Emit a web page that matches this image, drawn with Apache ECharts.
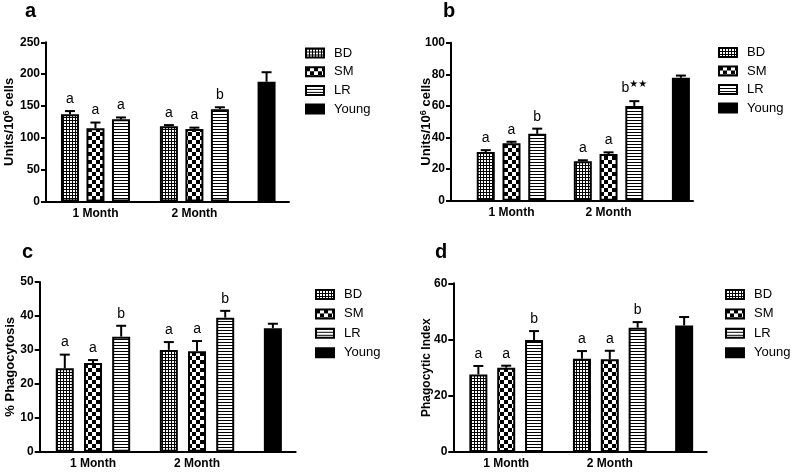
<!DOCTYPE html>
<html>
<head>
<meta charset="utf-8">
<script src="https://cdn.jsdelivr.net/npm/echarts@6/dist/echarts.min.js"></script>
<style>
  html, body { margin: 0; padding: 0; background: #fff; }
  #chart { width: 794px; height: 472px; }
</style>
</head>
<body>
<div id="chart"></div>
<script>
const groups = ['1 Month', '2 Month']
const legendNames = ['BD', 'SM', 'LR', 'Young']

// panel a
const aTicks = [0, 50, 100, 150, 200, 250]
const aBD = [137, 118], aSM = [115, 114], aLR = [129, 145], aYoung = [188]
const aBDErr = [5, 2], aSMErr = [9, 2], aLRErr = [3, 3], aYoungErr = [15]
const aSig = ['a', 'a', 'a', 'a', 'a', 'b']

// panel b
const bTicks = [0, 20, 40, 60, 80, 100]
const bBD = [30.8, 25], bSM = [36.3, 29.6], bLR = [42.3, 60], bYoung = [77.8]
const bBDErr = [1.2, 0.6], bSMErr = [1, 1], bLRErr = [3.3, 3], bYoungErr = [1.4]
const bSig = ['a', 'a', 'b', 'a', 'a', 'b★★']

// panel c
const cTicks = [0, 10, 20, 30, 40, 50]
const cBD = [24.6, 30], cSM = [26.1, 29.6], cLR = [33.9, 39.5], cYoung = [36.4]
const cBDErr = [4, 2.3], cSMErr = [0.9, 3], cLRErr = [3.2, 2], cYoungErr = [1.3]
const cSig = ['a', 'a', 'b', 'a', 'a', 'b']

// panel d
const dTicks = [0, 20, 40, 60]
const dBD = [27.6, 33.2], dSM = [30, 33], dLR = [39.8, 44.2], dYoung = [45]
const dBDErr = [3, 2.7], dSMErr = [0.7, 3], dLRErr = [3.2, 2], dYoungErr = [3]
const dSig = ['a', 'a', 'b', 'a', 'a', 'b']

const FONT = 'Liberation Sans'

function pattern(size, draw) {
  const c = document.createElement('canvas')
  c.width = size[0]
  c.height = size[1]
  const ctx = c.getContext('2d')
  ctx.fillStyle = '#fff'
  ctx.fillRect(0, 0, size[0], size[1])
  ctx.fillStyle = '#000'
  draw(ctx)
  return { image: c, repeat: 'repeat' }
}

// fills for each group
const fills = {
  BD: pattern([3, 3], (ctx) => { ctx.fillRect(0, 0, 3, 1); ctx.fillRect(0, 0, 1, 3) }),
  SM: pattern([8, 8], (ctx) => { ctx.fillRect(0, 0, 4, 4); ctx.fillRect(4, 4, 4, 4) }),
  LR: pattern([1, 3], (ctx) => { ctx.fillRect(0, 0, 1, 1) }),
  Young: '#000'
}

const panels = [
  { title: 'a', titleAt: [25, 1], grid: [46, 42.3, 243, 159.2], m: 0.94, gap: 1.88, gapY: 1.83, span: 9.53,
    legendAt: [305, 46.5], itemGap: 5.7, yName: 'Units/10{s|6} cells', nameGap: 29, nameSize: 13,
    ticks: aTicks, BD: aBD, SM: aSM, LR: aLR, Young: aYoung,
    err: [aBDErr, aSMErr, aLRErr, aYoungErr], sig: aSig },
  { title: 'b', titleAt: [443, 1], grid: [451, 42.7, 242, 158], m: 1.35, gap: 1.77, gapY: 1.81, span: 9.4,
    legendAt: [718, 46], itemGap: 5.5, yName: 'Units/10{s|6} cells', nameGap: 17, nameSize: 13,
    ticks: bTicks, BD: bBD, SM: bSM, LR: bLR, Young: bYoung,
    err: [bBDErr, bSMErr, bLRErr, bYoungErr], sig: bSig },
  { title: 'c', titleAt: [22, 242], grid: [39.7, 282, 256, 169.7], m: 0.89, gap: 1.69, gapY: 1.69, span: 9.08,
    legendAt: [315, 288], itemGap: 6.4, yName: '% Phagocytosis', nameGap: 23, nameSize: 13,
    ticks: cTicks, BD: cBD, SM: cSM, LR: cLR, Young: cYoung,
    err: [cBDErr, cSMErr, cLRErr, cYoungErr], sig: cSig },
  { title: 'd', titleAt: [435, 242], grid: [453.3, 283.3, 253.4, 168.7], m: 0.9, gap: 1.72, gapY: 1.67, span: 9.1,
    legendAt: [725, 288], itemGap: 6.4, yName: 'Phagocytic Index', nameGap: 21, nameSize: 12,
    ticks: dTicks, BD: dBD, SM: dSM, LR: dLR, Young: dYoung,
    err: [dBDErr, dSMErr, dLRErr, dYoungErr], sig: dSig }
]

const option = {
  animation: false,
  backgroundColor: '#fff',
  title: [], grid: [], xAxis: [], yAxis: [], legend: [], series: []
}

panels.forEach((p, k) => {
  // bar slot positions along the hidden value axis
  const g1 = [0, 1, 2].map((i) => p.m + i)
  const g2 = [0, 1, 2].map((i) => p.m + 2 + p.gap + i)
  const youngX = p.m + 4 + p.gap + p.gapY
  const centers = [g1[1], g2[1]]

  option.title.push({
    text: p.title, left: p.titleAt[0], top: p.titleAt[1], padding: 0,
    textStyle: { fontFamily: FONT, fontSize: 20, fontWeight: 'bold', color: '#000' }
  })
  option.grid.push({
    left: p.grid[0], top: p.grid[1], width: p.grid[2], height: p.grid[3],
    containLabel: false, outerBoundsMode: 'none'
  })
  option.xAxis.push({
    type: 'value', gridIndex: k, min: 0, max: p.span,
    splitLine: { show: false },
    axisLine: { show: true, onZero: true, lineStyle: { color: '#000', width: 2 } },
    axisTick: { show: false },
    axisLabel: {
      customValues: centers,
      margin: 6,
      fontFamily: FONT, fontSize: 12, fontWeight: 'bold', color: '#000',
      formatter: (v) => groups[centers.findIndex((c) => Math.abs(c - v) < 1e-6)] || ''
    }
  })
  option.yAxis.push({
    type: 'value', gridIndex: k,
    min: p.ticks[0], max: p.ticks[p.ticks.length - 1], interval: p.ticks[1] - p.ticks[0],
    splitLine: { show: false },
    axisLine: { show: true, lineStyle: { color: '#000', width: 2 } },
    axisTick: { show: true, length: 5, lineStyle: { color: '#000', width: 2 } },
    axisLabel: { margin: 6, fontFamily: FONT, fontSize: 12, fontWeight: 'bold', color: '#000' },
    name: p.yName, nameLocation: 'middle', nameRotate: 90, nameGap: p.nameGap,
    nameMoveOverlap: false,
    nameTextStyle: {
      fontFamily: FONT, fontSize: p.nameSize, fontWeight: 'bold', color: '#000',
      rich: { s: { fontFamily: FONT, fontSize: 9, fontWeight: 'bold', color: '#000', padding: [0, 0, 6, 0] } }
    }
  })
  option.legend.push({
    data: legendNames, orient: 'vertical', left: p.legendAt[0], top: p.legendAt[1],
    padding: 0, itemWidth: 18, itemHeight: 9, itemGap: p.itemGap, icon: 'rect',
    selectedMode: false,
    itemStyle: { borderColor: '#000', borderWidth: 2 },
    textStyle: { fontFamily: FONT, fontSize: 13, color: '#000', padding: [0, 0, 0, 5] }
  })

  const barBase = {
    type: 'bar', xAxisIndex: k, yAxisIndex: k, barWidth: 18, barGap: '-100%'
  }
  ;['BD', 'SM', 'LR'].forEach((name, i) => {
    option.series.push(Object.assign({}, barBase, {
      name,
      itemStyle: { color: fills[name], borderColor: '#000', borderWidth: 2 },
      data: [[g1[i], p[name][0]], [g2[i], p[name][1]]]
    }))
  })
  option.series.push(Object.assign({}, barBase, {
    name: 'Young',
    itemStyle: { color: fills.Young, borderColor: '#000', borderWidth: 2 },
    data: [[youngX, p.Young[0]]]
  }))

  // error bars and significance letters
  const errData = []
  ;[0, 1].forEach((g) => {
    ;['BD', 'SM', 'LR'].forEach((name, i) => {
      errData.push([(g === 0 ? g1 : g2)[i], p[name][g], p.err[i][g]])
    })
  })
  errData.push([youngX, p.Young[0], p.err[3][0]])
  const sig = p.sig.concat([''])

  option.series.push({
    type: 'custom', xAxisIndex: k, yAxisIndex: k, z: 5,
    data: errData,
    renderItem: (params, api) => {
      const x = api.value(0), v = api.value(1), e = api.value(2)
      const base = api.coord([x, v])
      const top = api.coord([x, v + e])
      const children = [
        { type: 'line', shape: { x1: base[0], y1: base[1], x2: top[0], y2: top[1] },
          style: { stroke: '#000', lineWidth: 2 } },
        { type: 'line', shape: { x1: top[0] - 5, y1: top[1], x2: top[0] + 5, y2: top[1] },
          style: { stroke: '#000', lineWidth: 2 } }
      ]
      const t = sig[params.dataIndex]
      if (t) {
        children.push({
          type: 'text', x: top[0], y: top[1] - 5,
          style: {
            text: t.replace(/(★+)/, '{s|$1}'),
            fontFamily: FONT, fontSize: 14, fill: '#000',
            align: 'center', verticalAlign: 'bottom',
            rich: { s: { fontFamily: 'DejaVu Sans', fontSize: 10, fill: '#000', padding: [0, 0, 7, 0] } }
          }
        })
      }
      return { type: 'group', children }
    }
  })
})

const chart = echarts.init(document.getElementById('chart'), null, { renderer: 'canvas' })
chart.setOption(option)
</script>
</body>
</html>
